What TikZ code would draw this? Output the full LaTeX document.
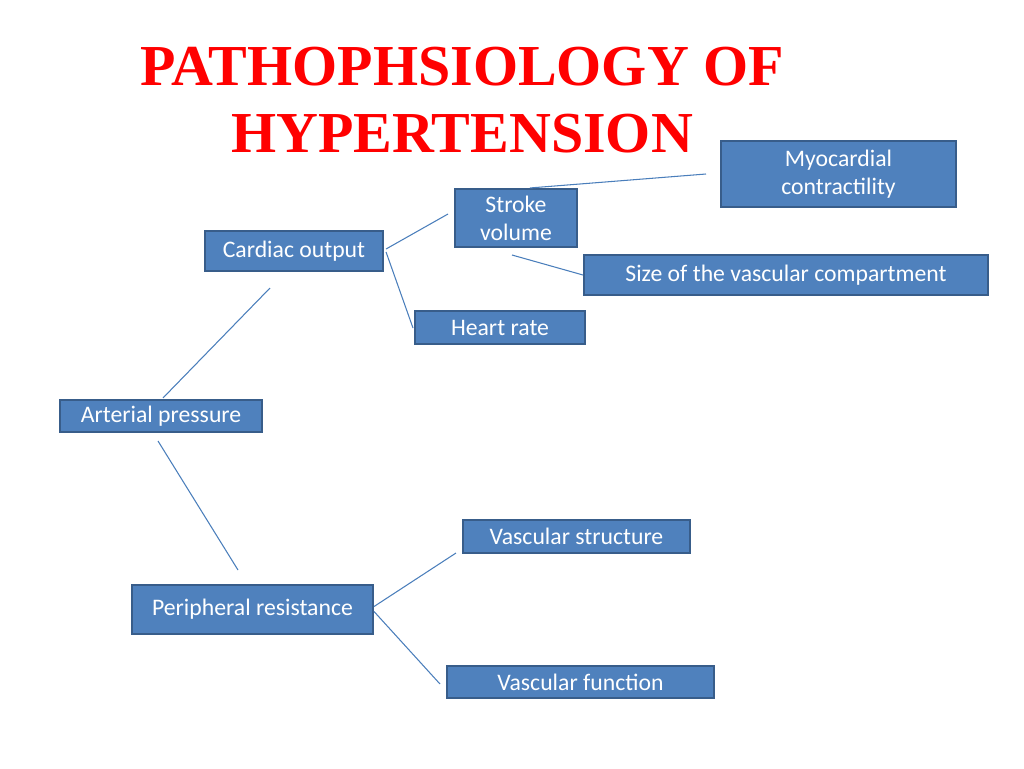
\documentclass[tikz,border=0pt]{standalone}
\usepackage{fontspec}
\setmainfont{Carlito}
\newfontfamily\titlefont{Liberation Serif}
\definecolor{boxfill}{HTML}{4F81BD}
\definecolor{boxline}{HTML}{385D8A}
\definecolor{linkblue}{HTML}{4A7EBB}
\definecolor{titlered}{HTML}{FF0000}
\tikzset{
  box/.style={draw=boxline, line width=1.2pt, fill=boxfill, text=white, align=center,
    font=\fontsize{13.5}{16}\selectfont, inner sep=0pt},
  link/.style={draw=linkblue, line width=0.6pt}
}
\begin{document}
\begin{tikzpicture}[x=0.02cm, y=-0.02cm]
\useasboundingbox (0,0) rectangle (1024,768);

% title
\node[text=titlered, align=center, font=\titlefont\bfseries\fontsize{33}{38}\selectfont] (title) at (462,100)
  {PATHOPHSIOLOGY OF\\HYPERTENSION};

% boxes
\node[box, minimum width=4.7cm, minimum height=1.32cm] (myo) at (838.5,174) {Myocardial\\contractility};
\node[box, minimum width=2.44cm, minimum height=1.16cm] (stroke) at (516,218) {Stroke\\volume};
\node[box, minimum width=3.56cm, minimum height=0.8cm] (cardiac) at (294,251) {Cardiac output};
\node[box, minimum width=8.08cm, minimum height=0.8cm] (size) at (786,275) {Size of the vascular compartment};
\node[box, minimum width=3.4cm, minimum height=0.66cm] (heart) at (500,327.5) {Heart rate};
\node[box, minimum width=4.04cm, minimum height=0.64cm] (arterial) at (161,416) {Arterial pressure};
\node[box, minimum width=4.54cm, minimum height=0.66cm] (vstruct) at (576.5,536.5) {Vascular structure};
\node[box, minimum width=4.82cm, minimum height=0.98cm] (periph) at (252.5,609.5) {Peripheral resistance};
\node[box, minimum width=5.34cm, minimum height=0.64cm] (vfunc) at (580.5,682) {Vascular function};

% free ends
\coordinate (myoEnd) at (706,174);
\coordinate (strokeEnd) at (448,214);
\coordinate (heartEnd) at (413,328);
\coordinate (sizeEnd) at (512,255);
\coordinate (cardiacEnd) at (270,288);
\coordinate (arterialEnd) at (158,441);
\coordinate (periphEnd) at (238,570);
\coordinate (vstructEnd) at (456,553);
\coordinate (vfuncEnd) at (440,684);

% links
\draw[link] (stroke.north) ++(14,0) -- (myoEnd);
\draw[link] (cardiac.east) ++(2,-2) -- (strokeEnd);
\draw[link] (cardiac.east) ++(2,1) -- (heartEnd);
\draw[link] (sizeEnd) -- (size.west);
\draw[link] (arterial.north) ++(2,-1) -- (cardiacEnd);
\draw[link] (arterialEnd) -- (periphEnd);
\draw[link] (periph.east) ++(0,-3) -- (vstructEnd);
\draw[link] (periph.east) ++(0,2) -- (vfuncEnd);
\end{tikzpicture}
\end{document}
